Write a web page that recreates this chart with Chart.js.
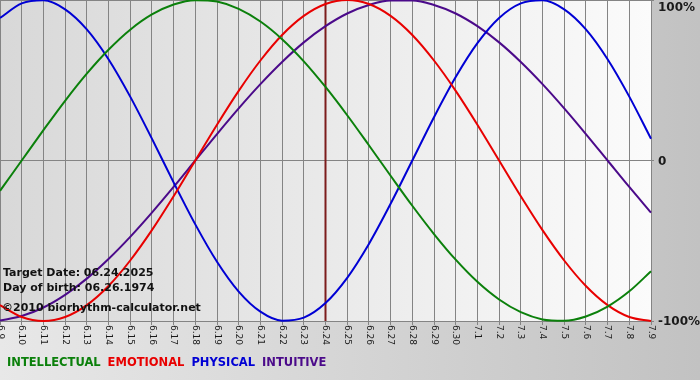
<!DOCTYPE html>
<html>
<head>
<meta charset="utf-8">
<script src="https://cdn.jsdelivr.net/npm/chart.js@4"></script>
<style>
  body { margin: 0; background: #d0d0d0; }
  canvas { display: block; }
</style>
</head>
<body>
<canvas id="bio" width="700" height="380"></canvas>
<script>
// days shown on the axis (month.day)
const days = ['6.9', '6.10', '6.11', '6.12', '6.13', '6.14', '6.15', '6.16', '6.17', '6.18',
    '6.19', '6.20', '6.21', '6.22', '6.23', '6.24', '6.25', '6.26', '6.27', '6.28', '6.29',
    '6.30', '7.1', '7.2', '7.3', '7.4', '7.5', '7.6', '7.7', '7.8', '7.9'];

// values, -1 .. 1
const intellectual = [-0.189, 0, 0.189, 0.372, 0.541, 0.690, 0.815, 0.910, 0.972, 0.999,
    0.990, 0.945, 0.866, 0.756, 0.618, 0.458, 0.282, 0.095, -0.095, -0.282,
    -0.458, -0.618, -0.756, -0.866, -0.945, -0.990, -0.999, -0.972, -0.910, -0.815, -0.690];
const emotional = [-0.901, -0.975, -1, -0.975, -0.901, -0.782, -0.623, -0.434, -0.223, 0,
    0.223, 0.434, 0.623, 0.782, 0.901, 0.975, 1, 0.975, 0.901, 0.782,
    0.623, 0.434, 0.223, 0, -0.223, -0.434, -0.623, -0.782, -0.901, -0.975, -1];
const physical = [0.888, 0.979, 0.998, 0.942, 0.817, 0.631, 0.398, 0.136, -0.136, -0.398,
    -0.631, -0.817, -0.942, -0.998, -0.979, -0.888, -0.731, -0.520, -0.270, 0,
    0.270, 0.520, 0.731, 0.888, 0.979, 0.998, 0.942, 0.817, 0.631, 0.398, 0.136];
const intuitive = [-0.997, -0.969, -0.916, -0.837, -0.736, -0.614, -0.476, -0.325, -0.165, 0,
    0.165, 0.325, 0.476, 0.614, 0.736, 0.837, 0.916, 0.969, 0.997, 0.997,
    0.969, 0.916, 0.837, 0.736, 0.614, 0.476, 0.325, 0.165, 0, -0.165, -0.325];

const targetDay = '6.24';
const yTicks = [1, 0, -1];
const yTickLabels = ['100%', '0', '-100%'];
const infoLines = ['Target Date: 06.24.2025', 'Day of birth: 06.26.1974'];
const copyright = '\u00a92010 biorhythm-calculator.net';

const seriesNames = ['INTELLECTUAL', 'EMOTIONAL', 'PHYSICAL', 'INTUITIVE'];
const seriesColors = ['#0b800b', '#e80000', '#0000d4', '#4b0a8a'];

const bioPlugin = {
    id: 'bio',
    beforeDraw(chart) {
        const ctx = chart.ctx;
        const a = chart.chartArea;
        ctx.save();
        // outer background
        let g = ctx.createLinearGradient(0, 0, chart.width, 0);
        g.addColorStop(0, '#e8e8e8');
        g.addColorStop(1, '#c2c2c2');
        ctx.fillStyle = g;
        ctx.fillRect(0, 0, chart.width, chart.height);
        // plot background
        g = ctx.createLinearGradient(a.left, 0, a.right, 0);
        g.addColorStop(0, '#d8d8d8');
        g.addColorStop(1, '#fbfbfb');
        ctx.fillStyle = g;
        ctx.fillRect(a.left, a.top, a.right - a.left, a.bottom - a.top);
        ctx.restore();
    },
    beforeDatasetsDraw(chart) {
        // marker for the target date
        const ctx = chart.ctx;
        const a = chart.chartArea;
        const x = chart.scales.x.getPixelForValue(days.indexOf(targetDay));
        ctx.save();
        ctx.strokeStyle = '#7c1c1c';
        ctx.lineWidth = 2;
        ctx.beginPath();
        ctx.moveTo(x, a.top);
        ctx.lineTo(x, a.bottom);
        ctx.stroke();
        ctx.restore();
    },
    afterDraw(chart) {
        const ctx = chart.ctx;
        const a = chart.chartArea;
        const xs = chart.scales.x;
        const ys = chart.scales.y;
        ctx.save();

        // day labels, turned clockwise
        ctx.fillStyle = '#1a1a1a';
        ctx.font = '9px "DejaVu Sans"';
        ctx.textAlign = 'left';
        ctx.textBaseline = 'middle';
        days.forEach((d, i) => {
            ctx.save();
            ctx.translate(xs.getPixelForTick(i), a.bottom + 4);
            ctx.rotate(Math.PI / 2);
            ctx.fillText(d, 0, 0);
            ctx.restore();
        });

        // percent labels on the right
        ctx.font = 'bold 12px "DejaVu Sans"';
        yTicks.forEach((v, i) => {
            let y = ys.getPixelForValue(v);
            y = Math.min(Math.max(y, a.top + 7), a.bottom + 1);
            ctx.fillText(yTickLabels[i], a.right + 7, y + 1);
        });

        // info text
        ctx.font = 'bold 11px "DejaVu Sans"';
        ctx.textBaseline = 'alphabetic';
        ctx.fillStyle = '#111';
        ctx.fillText(infoLines[0], 3, 276);
        ctx.fillText(infoLines[1], 3, 291);
        ctx.fillText(copyright, 2, 311);

        // legend
        ctx.font = 'bold 11.5px "DejaVu Sans"';
        let x = 7;
        seriesNames.forEach((n, i) => {
            ctx.fillStyle = seriesColors[i];
            ctx.fillText(n, x, 366);
            x += ctx.measureText(n).width + 7;
        });
        ctx.restore();
    }
};

const series = [intellectual, emotional, physical, intuitive];

new Chart(document.getElementById('bio'), {
    type: 'line',
    data: {
        labels: days,
        datasets: series.map((s, i) => ({
            label: seriesNames[i],
            data: s,
            borderColor: seriesColors[i],
            borderWidth: 2,
            pointRadius: 0,
            cubicInterpolationMode: 'monotone',
            clip: 4
        }))
    },
    options: {
        responsive: false,
        animation: false,
        layout: { padding: 0 },
        scales: {
            x: {
                offset: false,
                grid: { color: '#848484', lineWidth: 1, tickLength: 4 },
                border: { color: '#848484' },
                ticks: { display: false, autoSkip: false },
                afterFit: s => { s.height = 59; }
            },
            y: {
                position: 'right',
                min: -1,
                max: 1,
                grid: { color: '#848484', lineWidth: 1, tickLength: 3 },
                border: { color: '#848484' },
                ticks: { display: false, stepSize: 1 },
                afterFit: s => { s.width = 49; }
            }
        },
        plugins: {
            legend: { display: false },
            tooltip: { enabled: false }
        }
    },
    plugins: [bioPlugin]
});
</script>
</body>
</html>
